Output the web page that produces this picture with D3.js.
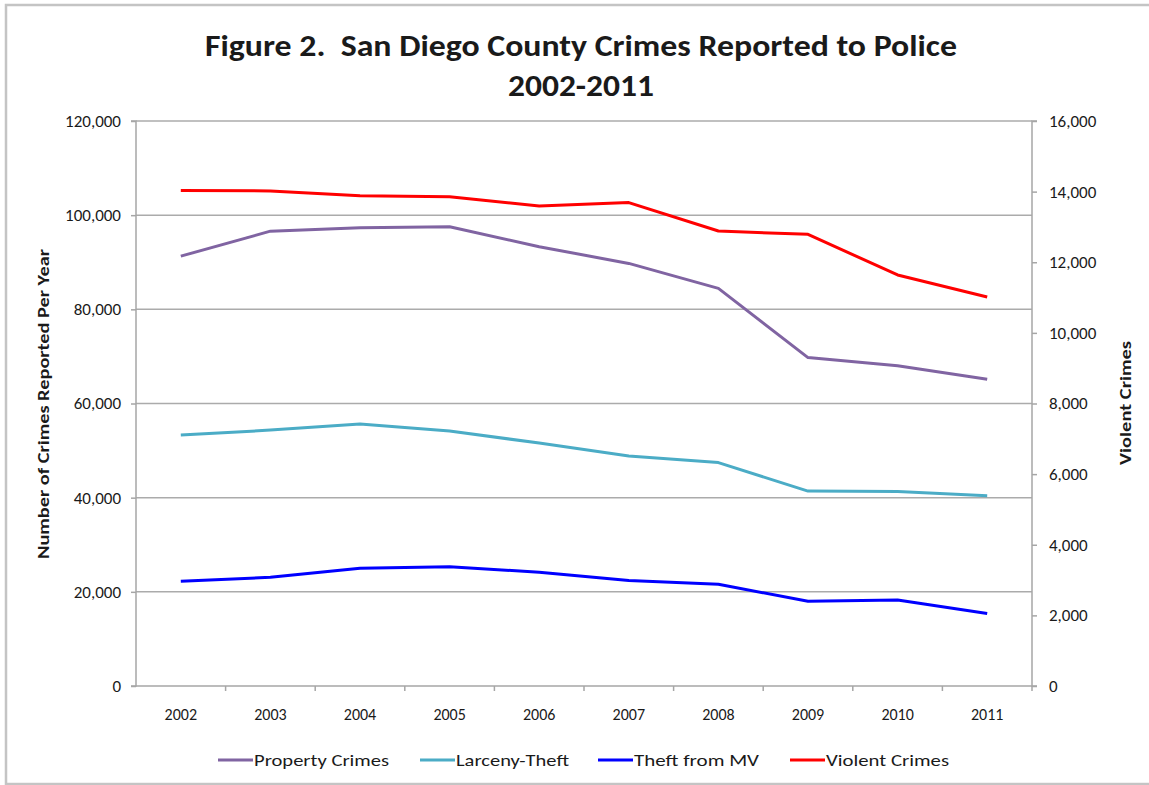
<!DOCTYPE html>
<html>
<head>
<meta charset="utf-8">
<script src="https://cdn.jsdelivr.net/npm/d3@7"></script>
<style>
  body { margin: 0; background: #fff; }
  svg { display: block; }
  text { font-family: Carlito, Lato, "Open Sans", sans-serif; fill: #1a1a1a; white-space: pre; }
</style>
</head>
<body>
<svg id="chart" width="1149" height="785"></svg>
<script>
// San Diego County crimes reported to police, 2002-2011
const years = ["2002","2003","2004","2005","2006","2007","2008","2009","2010","2011"];
const propertyCrimes = [91300, 96600, 97350, 97550, 93300, 89750, 84450, 69750, 68000, 65150];
const larcenyTheft   = [53300, 54350, 55650, 54150, 51600, 48850, 47450, 41400, 41300, 40400];
const theftFromMV    = [22250, 23100, 25000, 25350, 24150, 22400, 21600, 18000, 18250, 15400];
const violentCrimes  = [14030, 14020, 13885, 13855, 13595, 13690, 12885, 12790, 11640, 11015];

const leftTicks  = [0, 20000, 40000, 60000, 80000, 100000, 120000];
const rightTicks = [0, 2000, 4000, 6000, 8000, 10000, 12000, 14000, 16000];

const series = [
  { name: "Property Crimes", values: propertyCrimes, color: "#8064a2", axis: "left" },
  { name: "Larceny-Theft",   values: larcenyTheft,   color: "#4bacc6", axis: "left" },
  { name: "Theft from MV",   values: theftFromMV,    color: "#0000ff", axis: "left" },
  { name: "Violent Crimes",  values: violentCrimes,  color: "#ff0000", axis: "right" }
];

const svg = d3.select("#chart");
const plot = { left: 136, right: 1032, top: 121, bottom: 686 };

// outer frame
svg.append("rect")
  .attr("x", 6).attr("y", 5).attr("width", 1160).attr("height", 779)
  .attr("fill", "none").attr("stroke", "#c4c4c4").attr("stroke-width", 2.5);

const x = d3.scaleBand().domain(years).range([plot.left, plot.right]);
const yL = d3.scaleLinear().domain([0, 120000]).range([plot.bottom, plot.top]);
const yR = d3.scaleLinear().domain([0, 16000]).range([plot.bottom, plot.top]);

const fmt = d3.format(",");

// horizontal gridlines on the left scale
svg.append("g").selectAll("line")
  .data(leftTicks.filter(d => d > 0))
  .join("line")
  .attr("x1", plot.left).attr("x2", plot.right)
  .attr("y1", d => yL(d)).attr("y2", d => yL(d))
  .attr("stroke", "#ababab").attr("stroke-width", 1.5);

// left axis
const gL = svg.append("g").attr("transform", `translate(${plot.left},0)`)
  .call(d3.axisLeft(yL).tickValues(leftTicks).tickFormat(fmt).tickSize(5).tickPadding(10));
// right axis
const gR = svg.append("g").attr("transform", `translate(${plot.right},0)`)
  .call(d3.axisRight(yR).tickValues(rightTicks).tickFormat(fmt).tickSize(5).tickPadding(12));
// bottom axis with ticks between categories
const gB = svg.append("g").attr("transform", `translate(0,${plot.bottom})`)
  .call(d3.axisBottom(x).tickSize(0).tickPadding(23));
gB.append("g").selectAll("line")
  .data(years.map((d, i) => plot.left + (i + 1) * x.step()))
  .join("line")
  .attr("x1", d => d).attr("x2", d => d).attr("y1", 0).attr("y2", 5)
  .attr("stroke", "#a6a6a6").attr("stroke-width", 1.5);

[gL, gR, gB].forEach(g => {
  g.attr("font-size", null).attr("font-family", null);
  g.select(".domain").attr("stroke", "#a6a6a6").attr("stroke-width", 1.5);
  g.selectAll(".tick line").attr("stroke", "#a6a6a6").attr("stroke-width", 1.5);
  g.selectAll(".tick text").attr("fill", "#222")
    .style("font-size", g === gB ? "16px" : "17px")
    .style("font-family", "Carlito, Lato, 'Open Sans', sans-serif");
});
gB.select(".domain").attr("d", `M${plot.left},0H${plot.right}`);
gR.select(".domain").attr("d", `M5,${plot.top}H0V${plot.bottom}H5`);
gL.select(".domain").attr("d", `M-5,${plot.top}H0V${plot.bottom}H-5`);

// series lines
const line = (scale) => d3.line()
  .x((d, i) => x(years[i]) + x.bandwidth() / 2)
  .y(d => scale(d));

svg.append("g").selectAll("path")
  .data(series)
  .join("path")
  .attr("fill", "none")
  .attr("stroke", d => d.color)
  .attr("stroke-width", 3)
  .attr("stroke-linejoin", "round")
  .attr("d", d => line(d.axis === "left" ? yL : yR)(d.values));

// title
svg.append("text")
  .attr("x", 581).attr("y", 56).attr("text-anchor", "middle")
  .attr("font-size", 30).attr("font-weight", "bold")
  .attr("textLength", 752).attr("lengthAdjust", "spacingAndGlyphs")
  .text("Figure 2.  San Diego County Crimes Reported to Police");
svg.append("text")
  .attr("x", 581).attr("y", 96).attr("text-anchor", "middle")
  .attr("font-size", 30).attr("font-weight", "bold")
  .attr("textLength", 146).attr("lengthAdjust", "spacingAndGlyphs")
  .text("2002-2011");

// axis titles
svg.append("text")
  .attr("transform", "translate(49,404) rotate(-90)")
  .attr("text-anchor", "middle").attr("font-size", 15).attr("font-weight", "bold")
  .attr("textLength", 310).attr("lengthAdjust", "spacingAndGlyphs")
  .text("Number of Crimes Reported Per Year");
svg.append("text")
  .attr("transform", "translate(1131,403) rotate(-90)")
  .attr("text-anchor", "middle").attr("font-size", 15).attr("font-weight", "bold")
  .attr("textLength", 124).attr("lengthAdjust", "spacingAndGlyphs")
  .text("Violent Crimes");

// legend
const legendX = [218, 420, 598, 790];
const legendW = [135, 113, 125, 123];
const lg = svg.append("g").selectAll("g")
  .data(series)
  .join("g")
  .attr("transform", (d, i) => `translate(${legendX[i]},760)`);
lg.append("line")
  .attr("x1", 0).attr("x2", 35).attr("y1", 0).attr("y2", 0)
  .attr("stroke", d => d.color).attr("stroke-width", 3);
lg.append("text")
  .attr("x", 36).attr("y", 6).attr("font-size", 17)
  .attr("textLength", (d, i) => legendW[i]).attr("lengthAdjust", "spacingAndGlyphs")
  .text(d => d.name);
</script>
</body>
</html>
